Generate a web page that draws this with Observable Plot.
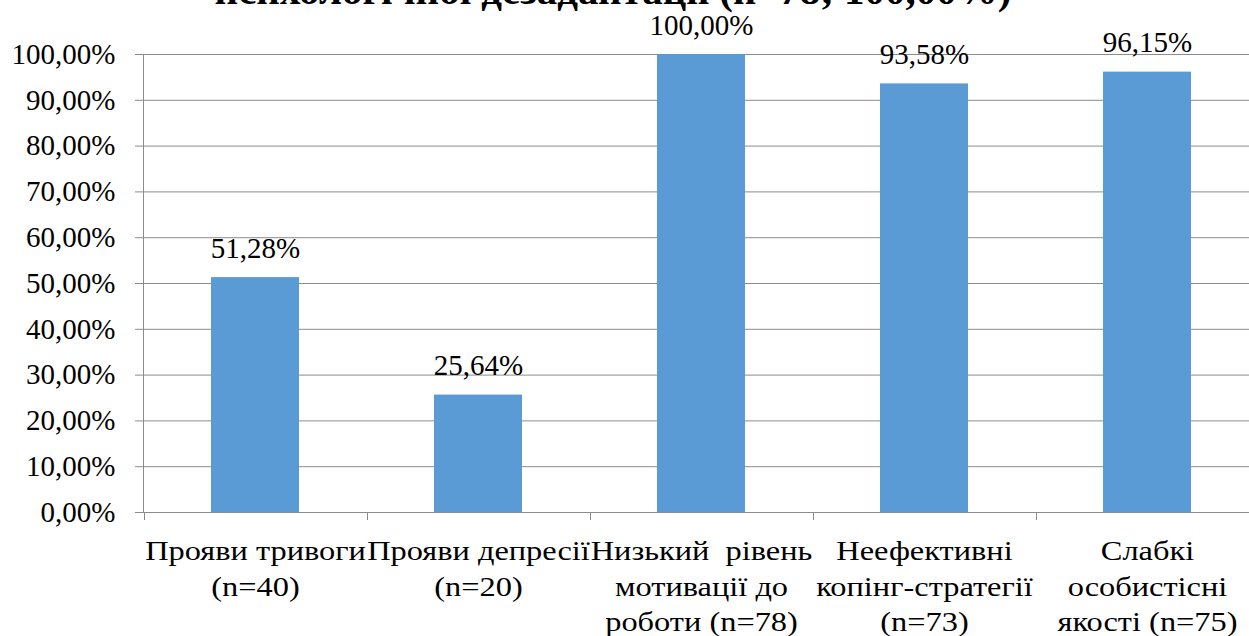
<!DOCTYPE html>
<html>
<head>
<meta charset="utf-8">
<script src="https://cdn.jsdelivr.net/npm/d3@7"></script>
<script src="https://cdn.jsdelivr.net/npm/@observablehq/plot@0.6"></script>
<style>
  html, body { margin: 0; padding: 0; background: #fff; overflow: hidden; }
  #wrap { position: relative; width: 1249px; height: 636px; overflow: hidden; }
  #title { position: absolute; left: 0; width: 1226px; top: -30px; text-align: center; line-height: 41px;
    font-family: "Liberation Serif", "Times New Roman", "DejaVu Serif", serif; font-weight: bold; font-size: 41px; color: #000; white-space: nowrap; }
  #chart { position: absolute; left: 0; top: 0; }
  #chart svg text { font-family: "Liberation Serif", "Times New Roman", "DejaVu Serif", serif; }
</style>
</head>
<body>
<div id="wrap">
  <div id="title">психологічної дезадаптації (n=78; 100,00%)</div>
  <div id="chart"></div>
</div>
<script>
const categories = [
  "Прояви тривоги\n(n=40)",
  "Прояви депресії\n(n=20)",
  "Низький  рівень\nмотивації до\nроботи (n=78)",
  "Неефективні\nкопінг-стратегії\n(n=73)",
  "Слабкі\nособистісні\nякості (n=75)"
];
const values = [51.28, 25.64, 100.00, 93.58, 96.15];
const yTicks = [0, 10, 20, 30, 40, 50, 60, 70, 80, 90, 100];

const data = categories.map((c, i) => ({category: c, value: values[i]}));
const fmt = v => v.toFixed(2).replace(".", ",") + "%";
const gray = "#8c8c8c";
const W = 1249, H = 636;
const serif = "'Liberation Serif', 'Times New Roman', 'DejaVu Serif', serif";
const PAD_INNER = 0.605;

const axisLines = (index, scales, vals, dims) => {
  const g = d3.create("svg:g");
  const x = scales.x;
  const step = x(categories[1]) - x(categories[0]);
  let bw = typeof x.bandwidth === "function" ? x.bandwidth() : x.bandwidth;
  if (!(bw > 0)) bw = step * (1 - PAD_INNER);
  const gap = (step - bw) / 2;
  const y0 = scales.y(0), y1 = scales.y(100);
  const xl = dims.marginLeft + 0.5;
  g.append("line").attr("x1", xl).attr("x2", xl).attr("y1", y1).attr("y2", y0)
    .attr("stroke", gray).attr("stroke-width", 1);
  categories.forEach((c) => {
    const xb = Math.round(x(c) - gap) + 0.5;
    g.append("line").attr("x1", xb).attr("x2", xb).attr("y1", y0).attr("y2", y0 + 8)
      .attr("stroke", gray).attr("stroke-width", 1);
  });
  return g.node();
};

const plot = Plot.plot({
  width: W,
  height: H,
  marginLeft: 143,
  marginRight: 0,
  marginTop: 54,
  marginBottom: 124,
  style: {fontFamily: serif, fontSize: "27px", color: "#000", background: "transparent"},
  x: {domain: categories, range: [143, 1260], paddingInner: PAD_INNER, paddingOuter: PAD_INNER / 2, label: null},
  y: {domain: [0, 100], label: null},
  marks: [
    Plot.gridY(yTicks, {stroke: gray, strokeOpacity: 1, strokeWidth: 1}),
    Plot.barY(data, {x: "category", y: "value", fill: "#5b9bd5"}),
    Plot.ruleY([0], {stroke: gray, strokeWidth: 1}),
    Plot.axisY(yTicks, {tickFormat: fmt, tickSize: 8, tickPadding: 20, stroke: gray, fontSize: 29, fill: "#000", fontFamily: serif, label: null}),
    Plot.axisX({tickSize: 0, tickPadding: 23, fontSize: 27, fill: "#000", lineHeight: 1.3, textAnchor: "middle", fontFamily: serif, label: null}),
    Plot.text(data, {x: "category", y: "value", text: d => fmt(d.value), dy: -29, fontSize: 29, fill: "#000", fontFamily: serif}),
    axisLines
  ]
});
document.getElementById("chart").appendChild(plot);

// the reference's category labels are horizontally stretched
d3.select(plot).selectAll("g[aria-label='x-axis tick label'] text").each(function() {
  const t = d3.select(this);
  const tr = t.attr("transform");
  if (tr) {
    t.attr("transform", tr + " scale(1.2,1)");
  } else {
    const x = +t.attr("x") || 0, y = +t.attr("y") || 0;
    t.attr("x", null).attr("y", null).attr("transform", `translate(${x},${y}) scale(1.2,1)`);
  }
});
</script>
</body>
</html>
